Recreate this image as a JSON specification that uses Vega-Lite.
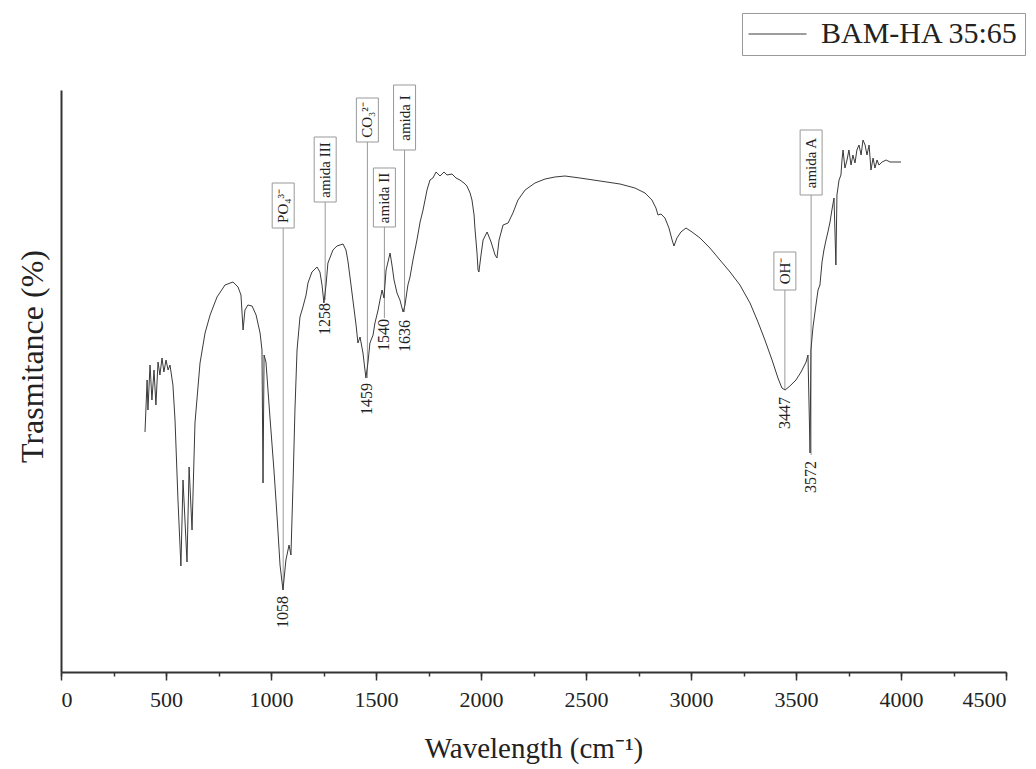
{
  "$schema": "https://vega.github.io/schema/vega-lite/v6.json",
  "autosize": "none",
  "width": 945,
  "height": 582,
  "padding": {"left": 61, "top": 90, "right": 30, "bottom": 97},
  "background": "white",
  "config": {
    "view": {"stroke": null},
    "font": "Liberation Serif",
    "axis": {"labelFont": "Liberation Serif", "titleFont": "Liberation Serif", "labelColor": "#222", "titleColor": "#222", "titleFontWeight": "normal", "grid": false},
    "legend": {"labelFont": "Liberation Serif"}
  },
  "datasets": {
    "spectrum": [
      {"wn":400,"t":240},{"wn":410,"t":292},{"wn":414,"t":262},{"wn":424,"t":307},{"wn":433,"t":272},{"wn":443,"t":302},{"wn":452,"t":267},{"wn":462,"t":310},{"wn":471,"t":297},{"wn":481,"t":314},{"wn":490,"t":300},{"wn":500,"t":312},{"wn":510,"t":302},{"wn":519,"t":307},{"wn":533,"t":287},{"wn":543,"t":252},{"wn":557,"t":172},{"wn":571,"t":106},{"wn":581,"t":192},{"wn":600,"t":110},{"wn":610,"t":205},{"wn":624,"t":142},{"wn":638,"t":249},{"wn":662,"t":309},{"wn":686,"t":339},{"wn":710,"t":357},{"wn":743,"t":375},{"wn":781,"t":387},{"wn":819,"t":390},{"wn":843,"t":385},{"wn":857,"t":377},{"wn":867,"t":342},{"wn":876,"t":362},{"wn":890,"t":367},{"wn":910,"t":366},{"wn":929,"t":357},{"wn":948,"t":339},{"wn":957,"t":322},{"wn":962,"t":189},{"wn":967,"t":317},{"wn":976,"t":310},{"wn":995,"t":255},{"wn":1014,"t":202},{"wn":1029,"t":155},{"wn":1043,"t":107},{"wn":1057,"t":82},{"wn":1071,"t":112},{"wn":1086,"t":127},{"wn":1095,"t":117},{"wn":1105,"t":189},{"wn":1114,"t":262},{"wn":1124,"t":322},{"wn":1138,"t":355},{"wn":1152,"t":365},{"wn":1167,"t":377},{"wn":1176,"t":389},{"wn":1195,"t":400},{"wn":1219,"t":405},{"wn":1233,"t":400},{"wn":1243,"t":387},{"wn":1252,"t":369},{"wn":1262,"t":387},{"wn":1271,"t":409},{"wn":1295,"t":422},{"wn":1314,"t":426},{"wn":1343,"t":428},{"wn":1357,"t":422},{"wn":1367,"t":410},{"wn":1381,"t":387},{"wn":1390,"t":372},{"wn":1405,"t":347},{"wn":1414,"t":329},{"wn":1424,"t":335},{"wn":1438,"t":319},{"wn":1452,"t":294},{"wn":1462,"t":310},{"wn":1471,"t":329},{"wn":1486,"t":337},{"wn":1495,"t":349},{"wn":1510,"t":362},{"wn":1519,"t":372},{"wn":1529,"t":382},{"wn":1538,"t":374},{"wn":1548,"t":402},{"wn":1557,"t":410},{"wn":1567,"t":419},{"wn":1576,"t":407},{"wn":1586,"t":392},{"wn":1600,"t":379},{"wn":1614,"t":372},{"wn":1629,"t":360},{"wn":1638,"t":367},{"wn":1652,"t":387},{"wn":1662,"t":395},{"wn":1676,"t":412},{"wn":1695,"t":432},{"wn":1710,"t":450},{"wn":1724,"t":462},{"wn":1743,"t":482},{"wn":1757,"t":492},{"wn":1771,"t":494},{"wn":1786,"t":500},{"wn":1805,"t":496},{"wn":1824,"t":500},{"wn":1838,"t":497},{"wn":1862,"t":498},{"wn":1881,"t":494},{"wn":1900,"t":492},{"wn":1919,"t":489},{"wn":1933,"t":486},{"wn":1948,"t":479},{"wn":1957,"t":472},{"wn":1967,"t":457},{"wn":1971,"t":444},{"wn":1981,"t":419},{"wn":1986,"t":402},{"wn":1990,"t":400},{"wn":2000,"t":417},{"wn":2010,"t":432},{"wn":2029,"t":440},{"wn":2048,"t":430},{"wn":2067,"t":417},{"wn":2076,"t":414},{"wn":2086,"t":432},{"wn":2105,"t":447},{"wn":2129,"t":449},{"wn":2152,"t":459},{"wn":2176,"t":472},{"wn":2210,"t":482},{"wn":2257,"t":489},{"wn":2305,"t":493},{"wn":2352,"t":495},{"wn":2400,"t":496},{"wn":2471,"t":494},{"wn":2567,"t":491},{"wn":2662,"t":488},{"wn":2733,"t":484},{"wn":2781,"t":479},{"wn":2814,"t":472},{"wn":2833,"t":464},{"wn":2843,"t":457},{"wn":2857,"t":458},{"wn":2876,"t":454},{"wn":2895,"t":444},{"wn":2910,"t":432},{"wn":2919,"t":426},{"wn":2933,"t":434},{"wn":2952,"t":440},{"wn":2976,"t":444},{"wn":3005,"t":440},{"wn":3043,"t":434},{"wn":3090,"t":424},{"wn":3138,"t":412},{"wn":3186,"t":400},{"wn":3233,"t":387},{"wn":3281,"t":369},{"wn":3319,"t":350},{"wn":3352,"t":332},{"wn":3386,"t":312},{"wn":3414,"t":294},{"wn":3433,"t":284},{"wn":3448,"t":282},{"wn":3471,"t":286},{"wn":3500,"t":292},{"wn":3524,"t":300},{"wn":3548,"t":310},{"wn":3557,"t":317},{"wn":3567,"t":219},{"wn":3571,"t":322},{"wn":3581,"t":345},{"wn":3595,"t":367},{"wn":3605,"t":382},{"wn":3614,"t":387},{"wn":3624,"t":410},{"wn":3633,"t":422},{"wn":3643,"t":432},{"wn":3652,"t":440},{"wn":3662,"t":450},{"wn":3671,"t":462},{"wn":3681,"t":474},{"wn":3690,"t":407},{"wn":3695,"t":477},{"wn":3705,"t":492},{"wn":3714,"t":497},{"wn":3719,"t":512},{"wn":3724,"t":522},{"wn":3733,"t":504},{"wn":3743,"t":512},{"wn":3752,"t":522},{"wn":3762,"t":507},{"wn":3771,"t":517},{"wn":3781,"t":509},{"wn":3790,"t":522},{"wn":3800,"t":527},{"wn":3810,"t":517},{"wn":3819,"t":532},{"wn":3829,"t":527},{"wn":3838,"t":517},{"wn":3848,"t":527},{"wn":3857,"t":502},{"wn":3867,"t":514},{"wn":3876,"t":504},{"wn":3886,"t":512},{"wn":3895,"t":507},{"wn":3910,"t":510},{"wn":3929,"t":512},{"wn":3948,"t":510},{"wn":3971,"t":510},{"wn":4000,"t":510}
    ],
    "peaks": [
      {"wn":1058,"band":"PO₄³⁻","num":"1058","line_end":82,"num_at":60,"box_lo":444,"box_hi":489,"box_mid":466},
      {"wn":1258,"band":"amida III","num":"1258","line_end":372,"num_at":353,"box_lo":470,"box_hi":535,"box_mid":502},
      {"wn":1459,"band":"CO₃²⁻","num":"1459","line_end":294,"num_at":273,"box_lo":530,"box_hi":574,"box_mid":552},
      {"wn":1540,"band":"amida II","num":"1540","line_end":354,"num_at":337,"box_lo":445,"box_hi":504,"box_mid":474},
      {"wn":1636,"band":"amida I","num":"1636","line_end":360,"num_at":336,"box_lo":522,"box_hi":587,"box_mid":554},
      {"wn":3447,"band":"OH⁻","num":"3447","line_end":282,"num_at":259,"box_lo":382,"box_hi":420,"box_mid":401},
      {"wn":3572,"band":"amida A","num":"3572","line_end":217,"num_at":195,"box_lo":477,"box_hi":542,"box_mid":509}
    ]
  },
  "resolve": {"axis": {"x": "independent"}},
  "layer": [
    {
      "data": {"name": "peaks"},
      "mark": {"type": "rule", "color": "#999", "strokeWidth": 1},
      "encoding": {
        "x": {"field": "wn", "type": "quantitative", "scale": {"domain": [0, 4500], "nice": false, "padding": 0},
          "axis": {"orient": "bottom", "values": [0,250,500,750,1000,1250,1500,1750,2000,2250,2500,2750,3000,3250,3500,3750,4000,4250,4500], "labels": false, "domain": false, "tickSize": 4, "tickColor": "#333", "tickWidth": 1.5, "title": null}},
        "y": {"field": "line_end", "type": "quantitative", "scale": {"domain": [0, 582], "nice": false}},
        "y2": {"field": "box_lo"}
      }
    },
    {
      "data": {"name": "spectrum"},
      "transform": [{"calculate": "'BAM-HA 35:65'", "as": "series"}],
      "mark": {"type": "line", "strokeWidth": 1, "interpolate": "linear"},
      "encoding": {
        "x": {"field": "wn", "type": "quantitative", "scale": {"domain": [0, 4500], "nice": false, "padding": 0},
          "axis": {"orient": "bottom", "values": [0,500,1000,1500,2000,2500,3000,3500,4000,4500], "format": "d", "tickSize": 8, "tickWidth": 1.5, "tickColor": "#333", "domainColor": "#333", "domainWidth": 2, "labelFontSize": 22, "labelPadding": 9, "title": "Wavelength (cm⁻¹)", "titleFontSize": 29, "titlePadding": 24}},
        "y": {"field": "t", "type": "quantitative", "scale": {"domain": [0, 582], "nice": false},
          "axis": {"labels": false, "ticks": false, "domainColor": "#333", "domainWidth": 2, "title": "Trasmitance (%)", "titleFontSize": 32, "titlePadding": 12, "titleY": 266}},
        "color": {"field": "series", "type": "nominal", "scale": {"range": ["#3a3a3a"]},
          "legend": {"title": null, "orient": "none", "legendX": 681, "legendY": -77, "symbolType": "M-1,0H3", "symbolSize": 841, "symbolStrokeWidth": 1, "symbolStrokeColor": "#666", "labelFontSize": 30, "labelColor": "#222", "labelOffset": 43, "labelLimit": 400, "strokeColor": "#999", "fillColor": "white", "padding": 6}}
      }
    },
    {
      "data": {"name": "peaks"},
      "mark": {"type": "bar", "width": 22, "fill": "white", "stroke": "#999", "strokeWidth": 1},
      "encoding": {
        "x": {"field": "wn", "type": "quantitative", "axis": null, "scale": {"padding": 0}},
        "y": {"field": "box_lo", "type": "quantitative"},
        "y2": {"field": "box_hi"}
      }
    },
    {
      "data": {"name": "peaks"},
      "mark": {"type": "text", "angle": 270, "align": "center", "baseline": "middle", "fontSize": 15, "color": "#222", "font": "Liberation Serif"},
      "encoding": {
        "x": {"field": "wn", "type": "quantitative", "axis": null},
        "y": {"field": "box_mid", "type": "quantitative"},
        "text": {"field": "band"}
      }
    },
    {
      "data": {"name": "peaks"},
      "mark": {"type": "text", "angle": 270, "align": "center", "baseline": "middle", "fontSize": 16, "color": "#222", "font": "Liberation Serif"},
      "encoding": {
        "x": {"field": "wn", "type": "quantitative", "axis": null},
        "y": {"field": "num_at", "type": "quantitative"},
        "text": {"field": "num"}
      }
    }
  ]
}
